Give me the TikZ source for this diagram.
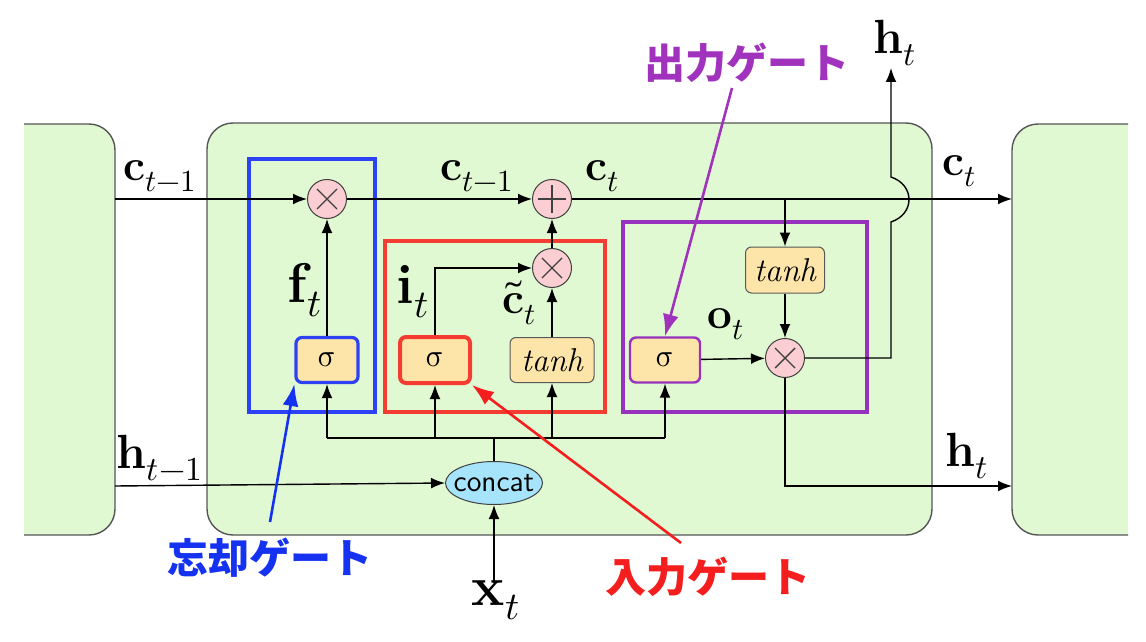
\documentclass[tikz,border=0pt]{standalone}
\usepackage{fontspec}
\usepackage{unicode-math}
\setmathfont{Latin Modern Math}
\newfontfamily\jp{Noto Sans CJK JP}
\usetikzlibrary{arrows.meta,shapes.geometric}
\definecolor{cellgreen}{RGB}{224,249,210}
\definecolor{cellborder}{RGB}{85,85,85}
\definecolor{opink}{RGB}{250,206,210}
\definecolor{fyellow}{RGB}{253,229,170}
\definecolor{cblue}{RGB}{165,228,250}
\definecolor{gblue}{RGB}{45,65,245}
\definecolor{gred}{RGB}{245,60,50}
\definecolor{gpurple}{RGB}{150,50,190}
\definecolor{tblue}{RGB}{20,50,240}
\definecolor{tred}{RGB}{245,30,30}
\definecolor{tpurple}{RGB}{160,50,190}
\begin{document}
\begin{tikzpicture}[x=0.5pt,y=-0.5pt,
  line width=0.7pt,
  arr/.style={-{Latex[length=7pt,width=5.4pt]}},
  annarr/.style={-{Latex[length=11pt,width=8pt]},line width=1.3pt},
  cellbox/.style={draw=cellborder,fill=cellgreen,rounded corners=13pt,line width=0.7pt},
  op/.style={circle,draw=black!75,fill=opink,minimum size=19.5pt,inner sep=0pt,line width=0.5pt},
  mult/.style={op,path picture={\draw[line width=0.7pt]
     ([shift={(-5pt,-5pt)}]path picture bounding box.center) -- ([shift={(5pt,5pt)}]path picture bounding box.center)
     ([shift={(-5pt,5pt)}]path picture bounding box.center) -- ([shift={(5pt,-5pt)}]path picture bounding box.center);}},
  plusop/.style={op,path picture={\draw[line width=0.7pt]
     ([shift={(-7pt,0pt)}]path picture bounding box.center) -- ([shift={(7pt,0pt)}]path picture bounding box.center)
     ([shift={(0pt,-7pt)}]path picture bounding box.center) -- ([shift={(0pt,7pt)}]path picture bounding box.center);}},
  fbox/.style={draw=black!65,fill=fyellow,rounded corners=3pt,line width=0.5pt,inner sep=0pt,minimum height=22.5pt},
  sigtxt/.style={font=\fontsize{16}{18}\selectfont},
  tanhtxt/.style={font=\fontsize{16.5}{18}\selectfont\itshape},
  lbl/.style={font=\fontsize{22}{25}\selectfont},
  lblh/.style={font=\fontsize{24}{27}\selectfont},
  lblbig/.style={font=\fontsize{28}{31}\selectfont},
  jplbl/.style={font=\fontsize{20.5}{22}\selectfont\jp\bfseries}
]
\useasboundingbox (0,0) rectangle (1146,642);
\fill[white] (0,0) rectangle (1146,642);

% neighbouring cells (clipped)
\begin{scope}
  \clip (24,0) rectangle (1128,642);
  \draw[cellbox] (-100,124) rectangle (115,535);
  \draw[cellbox] (1012,124) rectangle (1300,535);
\end{scope}
% main cell
\draw[cellbox] (207,123) rectangle (932,535);

% gate frames
\draw[gblue,line width=2pt] (249,159) rectangle (375,412);
\draw[gred,line width=2pt] (385,241) rectangle (605,412);
\draw[gpurple,line width=2pt] (623,222) rectangle (867,412);

% operators
\node[mult] (fmul) at (327,199) {};
\node[plusop] (add) at (552,199) {};
\node[mult] (imul) at (552,268) {};
\node[mult] (omul) at (785,358) {};

% activation boxes
\node[fbox,draw=gblue,line width=1.6pt,minimum width=31pt,sigtxt] (fsig) at (327,360) {$\symup{\sigma}$};
\node[fbox,draw=gred,line width=2pt,minimum width=35pt,minimum height=23pt,sigtxt] (isig) at (435,360) {$\symup{\sigma}$};
\node[fbox,minimum width=42pt,tanhtxt] (tanha) at (552,360) {tanh};
\node[fbox,draw=gpurple,line width=1.2pt,minimum width=35pt,sigtxt] (osig) at (665,360) {$\symup{\sigma}$};
\node[fbox,minimum width=39.5pt,minimum height=23pt,tanhtxt] (tanhb) at (785,270) {tanh};
\node[ellipse,draw=black!75,fill=cblue,line width=0.5pt,minimum width=48.5pt,minimum height=21.5pt,
      inner xsep=-3.5pt,inner ysep=0pt,
      font=\fontsize{15}{17}\selectfont\sffamily] (concat) at (494,483) {concat};

% named free ends
\coordinate (cin) at (115,199);
\coordinate (cout) at (1012,199);
\coordinate (cbr) at (785,199);
\coordinate (hin) at (115,486);
\coordinate (hout) at (1012,486);
\coordinate (xin) at (494,582);
\coordinate (htop) at (891,68);
\coordinate (hj1) at (891,222);
\coordinate (hj2) at (891,177);
\coordinate (bus) at (494,438);

% cell state path
\draw[arr] (cin) -- (fmul);
\draw[arr] (fmul) -- (add);
\draw[arr] (add) -- (cout);
\draw[arr] (cbr) -- (tanhb);
\draw[arr] (tanhb) -- (omul);

% gates
\draw[arr] (fsig) -- (fmul);
\draw[arr] (isig.north) |- (imul.west);
\draw[arr] (tanha) -- (imul);
\draw[arr] (imul) -- (add);
\draw[arr] (osig) -- (omul);

% hidden output
\draw[arr] (omul.east) -| (hj1) .. controls (915,214) and (915,185) .. (hj2) -- (htop);
\draw[arr] (omul.south) |- (hout);

% inputs
\draw[arr] (hin) -- (concat.west);
\draw[arr] (xin) -- (concat.south);
\draw (concat.north) -- (bus);
\draw (fsig.south |- bus) -- (osig.south |- bus);
\draw[arr] (fsig.south |- bus) -- (fsig.south);
\draw[arr] (isig.south |- bus) -- (isig.south);
\draw[arr] (tanha.south |- bus) -- (tanha.south);
\draw[arr] (osig.south |- bus) -- (osig.south);

% labels
\node[lbl] (lc1) at (160,176) {$\mathbf{c}_{t-1}$};
\node[lbl] (lc2) at (477,176) {$\mathbf{c}_{t-1}$};
\node[lbl] (lc3) at (603,176) {$\mathbf{c}_{t}$};
\node[lbl] (lc4) at (960,171) {$\mathbf{c}_{t}$};
\node[lblh] (lh1) at (160,458) {$\mathbf{h}_{t-1}$};
\node[lblh] (lh2) at (967,456) {$\mathbf{h}_{t}$};
\node[lblh] (lh3) at (895,43) {$\mathbf{h}_{t}$};
\node[lblbig] (lx) at (496,600) {$\mathbf{x}_{t}$};
\node[lblbig] (lf) at (305,290) {$\mathbf{f}_{t}$};
\node[lblbig] (li) at (413,292) {$\mathbf{i}_{t}$};
\node[lbl] (lct) at (520,303) {$\tilde{\mathbf{c}}_{t}$};
\node[lbl] (lo) at (726,324) {$\mathbf{o}_{t}$};

% annotations
\node[jplbl,text=tblue] (fgate) at (270,558) {忘却ゲート};
\node[jplbl,text=tred] (igate) at (708,577) {入力ゲート};
\node[jplbl,text=tpurple] (ogate) at (747,63) {出力ゲート};
\coordinate (fa) at (270,522);
\coordinate (ia) at (681,543);
\coordinate (oa) at (732,88);
\draw[annarr,tblue] (fa) -- (fsig.south west);
\draw[annarr,tred] (ia) -- (isig.south east);
\draw[annarr,tpurple] (oa) -- (osig.north);
\end{tikzpicture}
\end{document}
